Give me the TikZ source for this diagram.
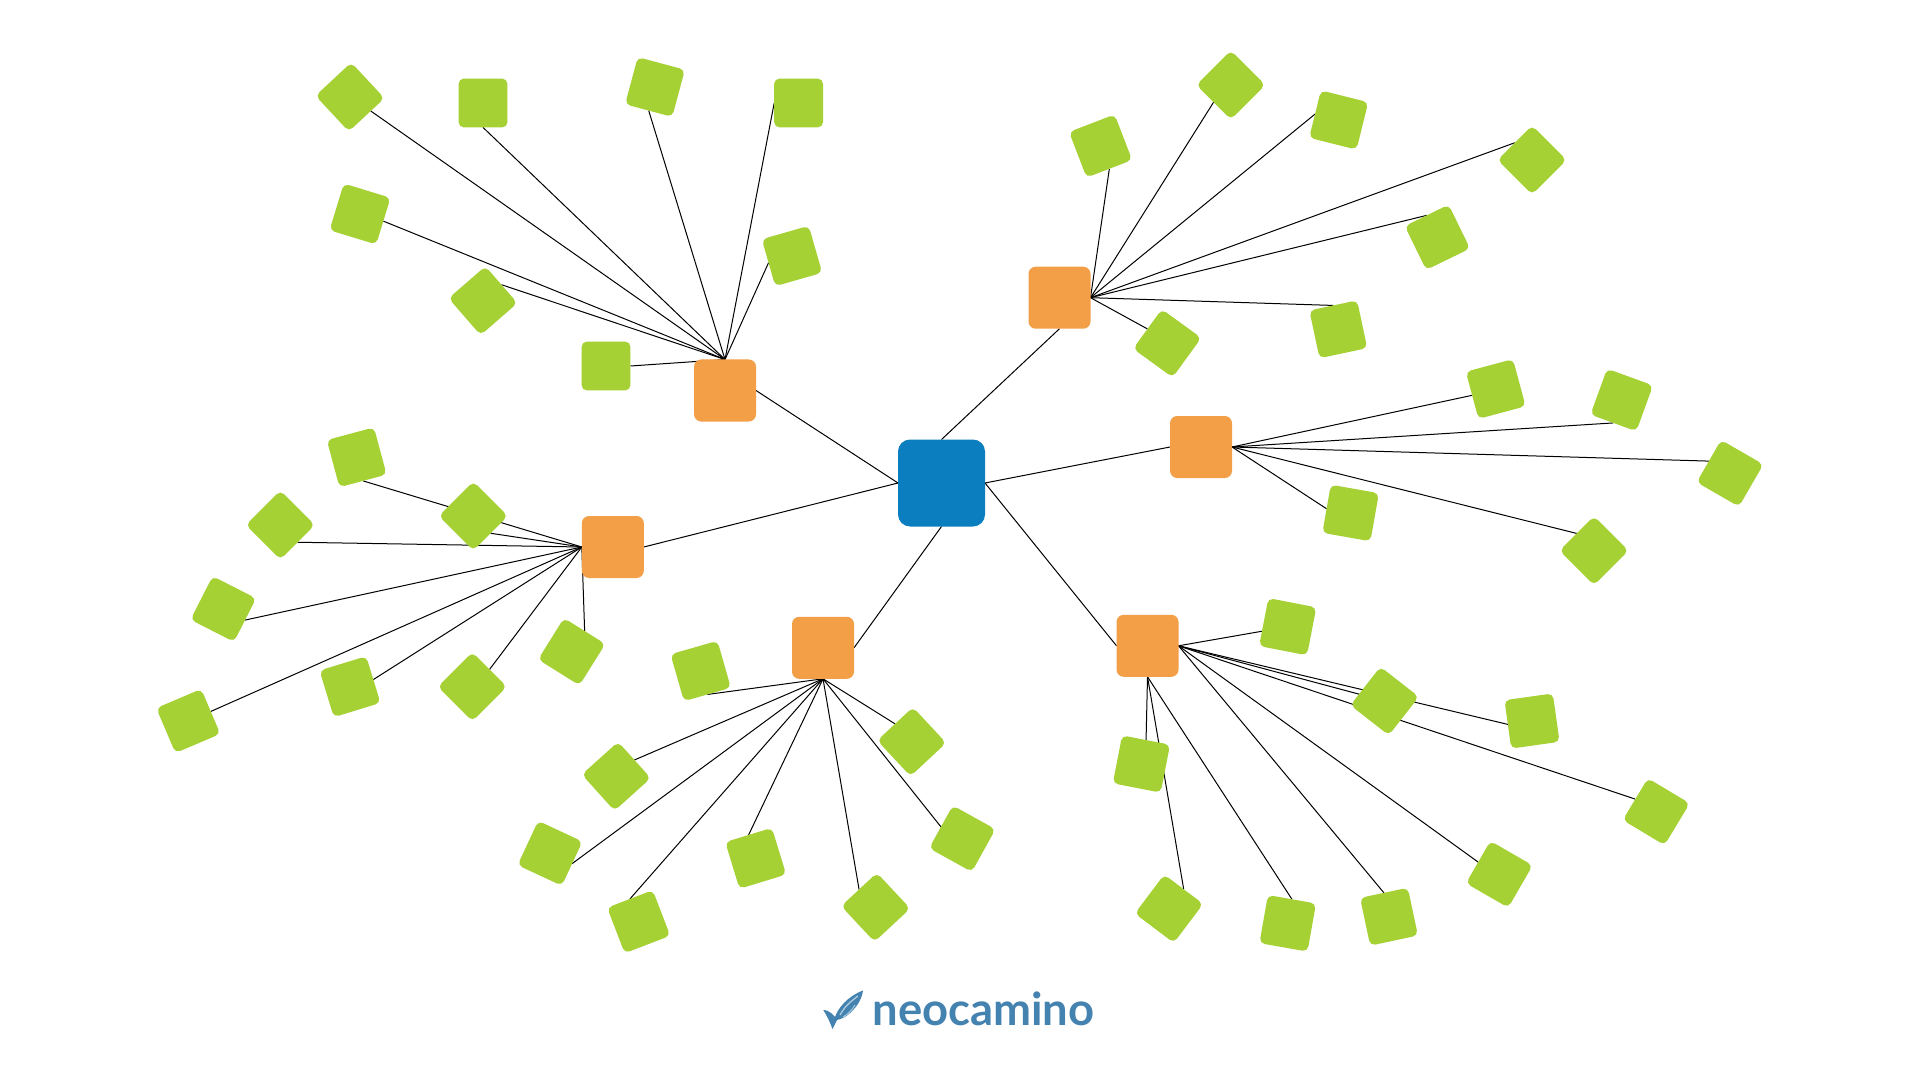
\documentclass[tikz,border=0pt]{standalone}
\usepackage{fontspec}
\newfontfamily\logofont{Lato}
\usetikzlibrary{backgrounds}
\definecolor{leafgreen}{HTML}{A6D135}
\definecolor{hubor}{HTML}{F39F48}
\definecolor{coreblue}{HTML}{0A7EBE}
\definecolor{logoblue}{HTML}{4482B0}
\definecolor{logolight}{HTML}{A9C8DE}
\tikzset{
  leaf/.style={fill=leafgreen,rounded corners=2.6pt,minimum size=24.4pt,inner sep=0pt,outer sep=0pt},
  hub/.style={fill=hubor,rounded corners=3.6pt,minimum size=31pt,inner sep=0pt,outer sep=0pt},
  core/.style={fill=coreblue,rounded corners=6pt,minimum size=43.5pt,inner sep=0pt,outer sep=0pt},
  link/.style={draw=black,line width=0.5pt}
}
\begin{document}
\begin{tikzpicture}[x=0.5pt,y=-0.5pt]
\useasboundingbox (0,0) rectangle (1920,1080);
% centre and hubs
\node[core] (c) at (941.5,483) {};
\node[hub] (hTL) at (725,390.5) {};
\node[hub] (hTR) at (1059.5,297.7) {};
\node[hub] (hR) at (1201,447) {};
\node[hub] (hBR) at (1147.5,645.8) {};
\node[hub] (hB) at (823,647.8) {};
\node[hub] (hL) at (612.8,547) {};
% top-left group
\node[leaf,rotate=43] (a1) at (350,97) {};
\node[leaf] (a2) at (483,103) {};
\node[leaf,rotate=-15] (a3) at (655,87) {};
\node[leaf] (a4) at (798.6,103) {};
\node[leaf,rotate=-17] (a5) at (360,214) {};
\node[leaf,rotate=41] (a6) at (483,300.7) {};
\node[leaf,rotate=16] (a7) at (792,256) {};
\node[leaf] (a8) at (606,366) {};
% top-right group
\node[leaf,rotate=21] (b1) at (1100.6,146) {};
\node[leaf,rotate=45] (b2) at (1230.8,85) {};
\node[leaf,rotate=-14] (b3) at (1338.7,120) {};
\node[leaf,rotate=45] (b4) at (1532,160) {};
\node[leaf,rotate=26] (b5) at (1437.4,237.3) {};
\node[leaf,rotate=12] (b6) at (1338.3,329.3) {};
\node[leaf,rotate=-36] (b7) at (1167.2,343.3) {};
% right group
\node[leaf,rotate=15] (r1) at (1495.7,389) {};
\node[leaf,rotate=-20] (r2) at (1621.7,400) {};
\node[leaf,rotate=-30] (r3) at (1730,473.3) {};
\node[leaf,rotate=45] (r4) at (1594,550.7) {};
\node[leaf,rotate=-10] (r5) at (1350.6,513) {};
% bottom-right group
\node[leaf,rotate=-11] (s1) at (1287.7,626.7) {};
\node[leaf,rotate=-38] (s2) at (1384.6,701) {};
\node[leaf,rotate=8] (s3) at (1532,721) {};
\node[leaf,rotate=-31] (s4) at (1656.2,811.7) {};
\node[leaf,rotate=-30] (s5) at (1499.3,874.3) {};
\node[leaf,rotate=12] (s6) at (1389,916.7) {};
\node[leaf,rotate=-10] (s7) at (1287.7,923.3) {};
\node[leaf,rotate=-37] (s8) at (1169,908.7) {};
\node[leaf,rotate=-11] (s9) at (1141.4,764) {};
% bottom group
\node[leaf,rotate=16] (t1) at (700.7,671) {};
\node[leaf,rotate=42] (t2) at (616.3,776.3) {};
\node[leaf,rotate=-25] (t3) at (550,853.3) {};
\node[leaf,rotate=21] (t4) at (638.7,921.7) {};
\node[leaf,rotate=17] (t5) at (755.7,858.3) {};
\node[leaf,rotate=43] (t6) at (875.7,907.3) {};
\node[leaf,rotate=-29] (t7) at (962.3,838.7) {};
\node[leaf,rotate=43] (t8) at (911.7,741.7) {};
% left group
\node[leaf,rotate=15] (l1) at (356.7,457.3) {};
\node[leaf,rotate=45] (l2) at (473.3,516) {};
\node[leaf,rotate=45] (l3) at (280.3,525) {};
\node[leaf,rotate=-27] (l4) at (223.3,609) {};
\node[leaf,rotate=23] (l5) at (188.3,721) {};
\node[leaf,rotate=17] (l6) at (350,686.7) {};
\node[leaf,rotate=45] (l7) at (472.3,686.7) {};
\node[leaf,rotate=-32] (l8) at (571.7,651.7) {};
\begin{pgfonlayer}{background}
\fill[white] (0,0) rectangle (1920,1080);
\draw[link] (c.west) -- (hTL.east);
\draw[link] (c.north) -- (hTR.south);
\draw[link] (c.east) -- (hR.west);
\draw[link] (c.east) -- (hBR.west);
\draw[link] (c.south) -- (hB.east);
\draw[link] (c.west) -- (hL.east);
\foreach \e in {a1.-77,a2.south,a3.south,a4.west,a5.east,a6.east,a7.west,a8.east}
  \draw[link] (hTL.north) -- (\e);
\foreach \e in {b1.south,b2.west,b3.west,b4.north,b5.north,b6.north,b7.west}
  \draw[link] (hTR.east) -- (\e);
\foreach \e in {r1.west,r2.south,r3.west,r4.north,r5.west}
  \draw[link] (hR.east) -- (\e);
\foreach \e in {s1.201,s2.center,s3.west,s4.west,s5.west,s6.north}
  \draw[link] (hBR.east) -- (\e);
\foreach \e in {s7.north,s8.north,s9.north}
  \draw[link] (hBR.south) -- (\e);
\foreach \e in {t1.south,t2.east,t3.east,t4.north,t5.north,t6.north,t7.west,t8.north}
  \draw[link] (hB.south) -- (\e);
\foreach \e in {l1.south,l2.south,l3.south,l4.east,l5.east,l6.east,l7.east,l8.north}
  \draw[link] (hL.west) -- (\e);
\end{pgfonlayer}
% logo
\fill[logoblue] (823.3,1010) .. controls (827,1010) and (831,1012) .. (835,1017)
  .. controls (838,1008) and (848,996) .. (863,990.5)
  .. controls (862,998) and (858,1006) .. (850,1013)
  .. controls (846,1017) and (841,1019) .. (837,1020)
  -- (832.5,1029) .. controls (830,1022) and (827,1016) .. (823.3,1010) -- cycle;
\draw[logolight,line width=0.7pt] (840,1015) .. controls (845,1006) and (850,1002) .. (858,996);
\draw[logolight,line width=0.5pt] (843,1017) .. controls (848,1014) and (852,1010) .. (855,1005);
\node[anchor=base west,inner sep=0pt,text=logoblue,font=\logofont\bfseries\fontsize{22.7pt}{24pt}\selectfont] (logo) at (872,1025) {neocamino};
\end{tikzpicture}
\end{document}
